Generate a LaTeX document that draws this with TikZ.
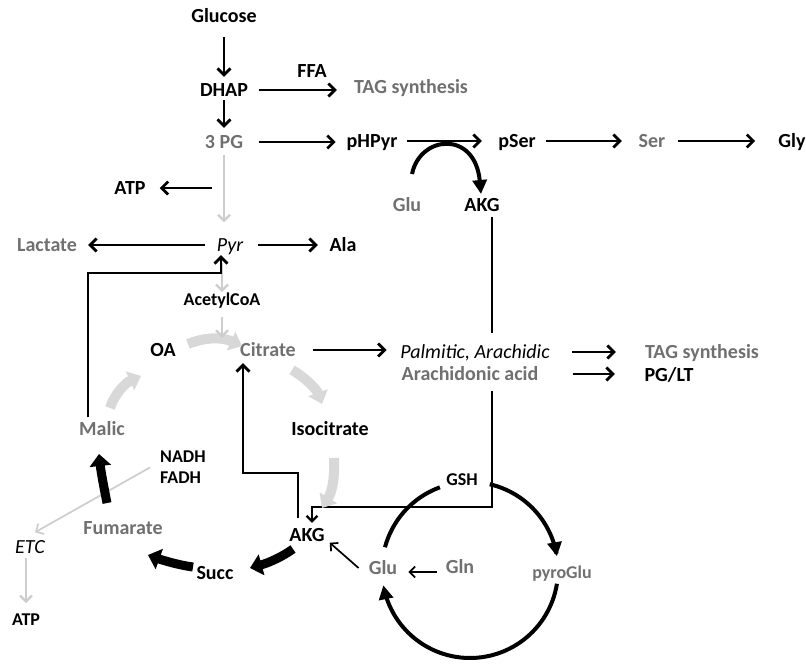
\documentclass[tikz,border=0pt]{standalone}
\usepackage{fontspec}
\setmainfont{Carlito}
\usetikzlibrary{arrows.meta}
\definecolor{txtgray}{RGB}{112,112,112}
\definecolor{ltgray}{RGB}{205,205,205}
\definecolor{blkgray}{RGB}{216,216,216}
\begin{document}
\begin{tikzpicture}[x=1pt,y=-1pt,
  every node/.style={inner sep=0pt, text height=14pt, text depth=1pt, font=\fontsize{20}{24}\selectfont\bfseries},
  smtxt/.style={font=\fontsize{18}{21}\selectfont\bfseries, text height=12.5pt, text depth=1pt},
  itx/.style={font=\fontsize{20}{24}\selectfont\itshape},
  grtxt/.style={text=txtgray},
  arr/.style={line width=2.8pt, -{Straight Barb[length=6.5pt,width=13pt]}},
  ltarr/.style={draw=ltgray, line width=2.2pt, -{Straight Barb[length=6pt,width=12pt]}},
  thinarr/.style={line width=1.7pt, -{Straight Barb[length=5.5pt,width=11pt]}},
  gblock/.style={draw=blkgray, line width=10pt, -{Triangle[length=12pt,width=20pt]}},
  bblock/.style={draw=black, line width=9pt, -{Triangle[length=12pt,width=21pt]}},
  tharr/.style={line width=4pt, -{Triangle[length=14pt,width=14pt]}},
  thline/.style={line width=4pt}
]
\useasboundingbox (0,0) rectangle (806,665);

% nodes
\node (glucose) at (224,16) {Glucose};
\node (dhap) at (224,90) {DHAP};
\node (ffa) at (312,71) {FFA};
\node[grtxt] (tag1) at (411,87) {TAG synthesis};
\node[grtxt] (pg3) at (224,142) {3 PG};
\node (phpyr) at (372,141) {pHPyr};
\node (pser) at (517,141) {pSer};
\node[grtxt] (ser) at (652,141) {Ser};
\node (gly) at (792,141) {Gly};
\node[grtxt] (glu1) at (407,205) {Glu};
\node (akg1) at (482,205) {AKG};
\node (atp1) at (130,188) {ATP};
\node[itx] (pyr) at (230,245) {Pyr};
\node[grtxt] (lactate) at (47,245) {Lactate};
\node (ala) at (343,245) {Ala};
\node[smtxt] (acetyl) at (222,300) {AcetylCoA};
\node (oa) at (163,350) {OA};
\node[grtxt] (citrate) at (268,350) {Citrate};
\node (isocit) at (330,429) {Isocitrate};
\node[grtxt] (malic) at (102,429) {Malic};
\node[smtxt,anchor=west] (nadh) at (160,457) {NADH};
\node[smtxt,anchor=west] (fadh) at (160,478) {FADH};
\node[grtxt] (fumarate) at (123,528) {Fumarate};
\node[itx] (etc) at (30,547) {ETC};
\node[smtxt] (atp2) at (26,620) {ATP};
\node (akg2) at (307,535) {AKG};
\node (succ) at (215,573) {Succ};
\node[grtxt] (glu2) at (383,568) {Glu};
\node[grtxt] (gln) at (460,567) {Gln};
\node[smtxt] (gsh) at (462,480) {GSH};
\node[smtxt,grtxt] (pyroglu) at (562,573) {pyroGlu};
\node[grtxt] (tag2) at (702,352) {TAG synthesis};
\node (pglt) at (669,375) {PG/LT};

% long line AKG -> AKG (behind the fatty acid label)
\coordinate (ak) at (312,507);
\draw[thinarr, line width=2.2pt, shorten >=4.5pt] ([xshift=10pt,yshift=-4pt]akg1.south) |- (ak) -- ([xshift=5pt]akg2.north);
\fill[white] (393,333) rectangle (575,391);
\node[itx] (palm) at (475,352) {Palmitic, Arachidic};
\node[grtxt] (arach) at (470,374) {Arachidonic acid};

% glycolysis / serine
\draw[arr,shorten <=13.5pt,shorten >=5.5pt] (glucose.south) -- (dhap.north);
\draw[arr,shorten <=2.5pt,shorten >=6.5pt] (dhap.south) -- (pg3.north);
\draw[arr,shorten <=11pt,shorten >=17pt] (dhap.east) -- (dhap.east -| tag1.west);
\draw[arr,shorten <=16pt,shorten >=10.7pt] (pg3.east) -- (pg3.east -| phpyr.west);
\draw[arr,shorten <=9.7pt,shorten >=16.3pt] (phpyr.east) -- (pser.west);
\draw[arr,shorten <=10.3pt,shorten >=16.7pt] (pser.east) -- (ser.west);
\draw[arr,shorten <=12.7pt,shorten >=23pt] (ser.east) -- (gly.west);
\draw[ltarr,shorten <=5pt,shorten >=15pt] (pg3.south) -- (pg3.south |- pyr.north);
\coordinate (atpstart) at (212,188);
\draw[arr,shorten >=14pt] (atpstart) -- (atp1.east);
\draw[tharr] (412,174) .. controls (420,135) and (475,130) .. (481,194);

% pyruvate
\draw[arr,shorten <=12pt,shorten >=11pt] (pyr.west) -- (lactate.east);
\draw[arr,shorten <=15pt,shorten >=11.5pt] (pyr.east) -- (ala.west);
\draw[ltarr,shorten <=10pt,shorten >=1pt] (acetyl.north |- pyr.south) -- (acetyl.north);
\coordinate (mp) at (221,273);
\draw[arr,shorten >=2.5pt] ([xshift=-14pt,yshift=4pt]malic.north) |- (mp) -- (mp |- pyr.south);

% TCA block arrows
\draw[gblock] (188,344) .. controls (205,337) and (222,337) .. (242,346);
\draw[ltarr,shorten <=10pt,shorten >=4.5pt] (acetyl.south) -- (acetyl.south |- citrate.north);
\draw[gblock] (292,370) .. controls (305,377) and (317,390) .. (322,404);
\draw[gblock] (110,408) .. controls (114,395) and (125,383) .. (141,376);
\draw[gblock] (334,458) .. controls (335,478) and (332,492) .. (322,508);
\draw[ltarr,line width=1.7pt] ([xshift=-10pt,yshift=-3.5pt]nadh.south west) -- ([xshift=-10pt,yshift=7pt]etc.north east);
\draw[bblock] (107,503) .. controls (104,488) and (101,472) .. (99,454);
\draw[bblock] (293,549) .. controls (282,557) and (268,563) .. (250,568);
\draw[bblock] (193,567) .. controls (178,565) and (162,560) .. (148,555);
\draw[ltarr,shorten <=3.5pt,shorten >=10pt] (atp2.north |- etc.south) -- (atp2.north);

% citrate out
\draw[arr,shorten <=17pt,shorten >=13.5pt] (citrate.east) -- (citrate.east -| palm.west);
\draw[arr,shorten <=22.5pt,shorten >=29pt] (palm.east) -- (palm.east -| tag2.west);
\draw[arr,shorten <=34.5pt,shorten >=29.5pt] (arach.east) -- (arach.east -| pglt.west);
\coordinate (ac) at (298,473);
\draw[arr,shorten >=5.5pt] ([xshift=-9pt,yshift=9pt]akg2.north) -- (ac) -| ([xshift=-25pt]citrate.south);

% glutamate
\draw[thinarr] ([xshift=-10pt]glu2.west) -- ([xshift=5pt]akg2.south east);
\draw[thinarr,shorten <=9pt,shorten >=11pt] ([yshift=-5pt]gln.west) -- ([yshift=-5pt]gln.west -| glu2.east);
\draw[tharr] plot[domain=-77:-9,samples=40] ({470+88*cos(\x)},{570+88*sin(\x)});
\draw[tharr] plot[domain=9:170,samples=60] ({470+88*cos(\x)},{570+88*sin(\x)});
\draw[thline] plot[domain=-165:-110,samples=30] ({470+88*cos(\x)},{570+88*sin(\x)});
\end{tikzpicture}
\end{document}
